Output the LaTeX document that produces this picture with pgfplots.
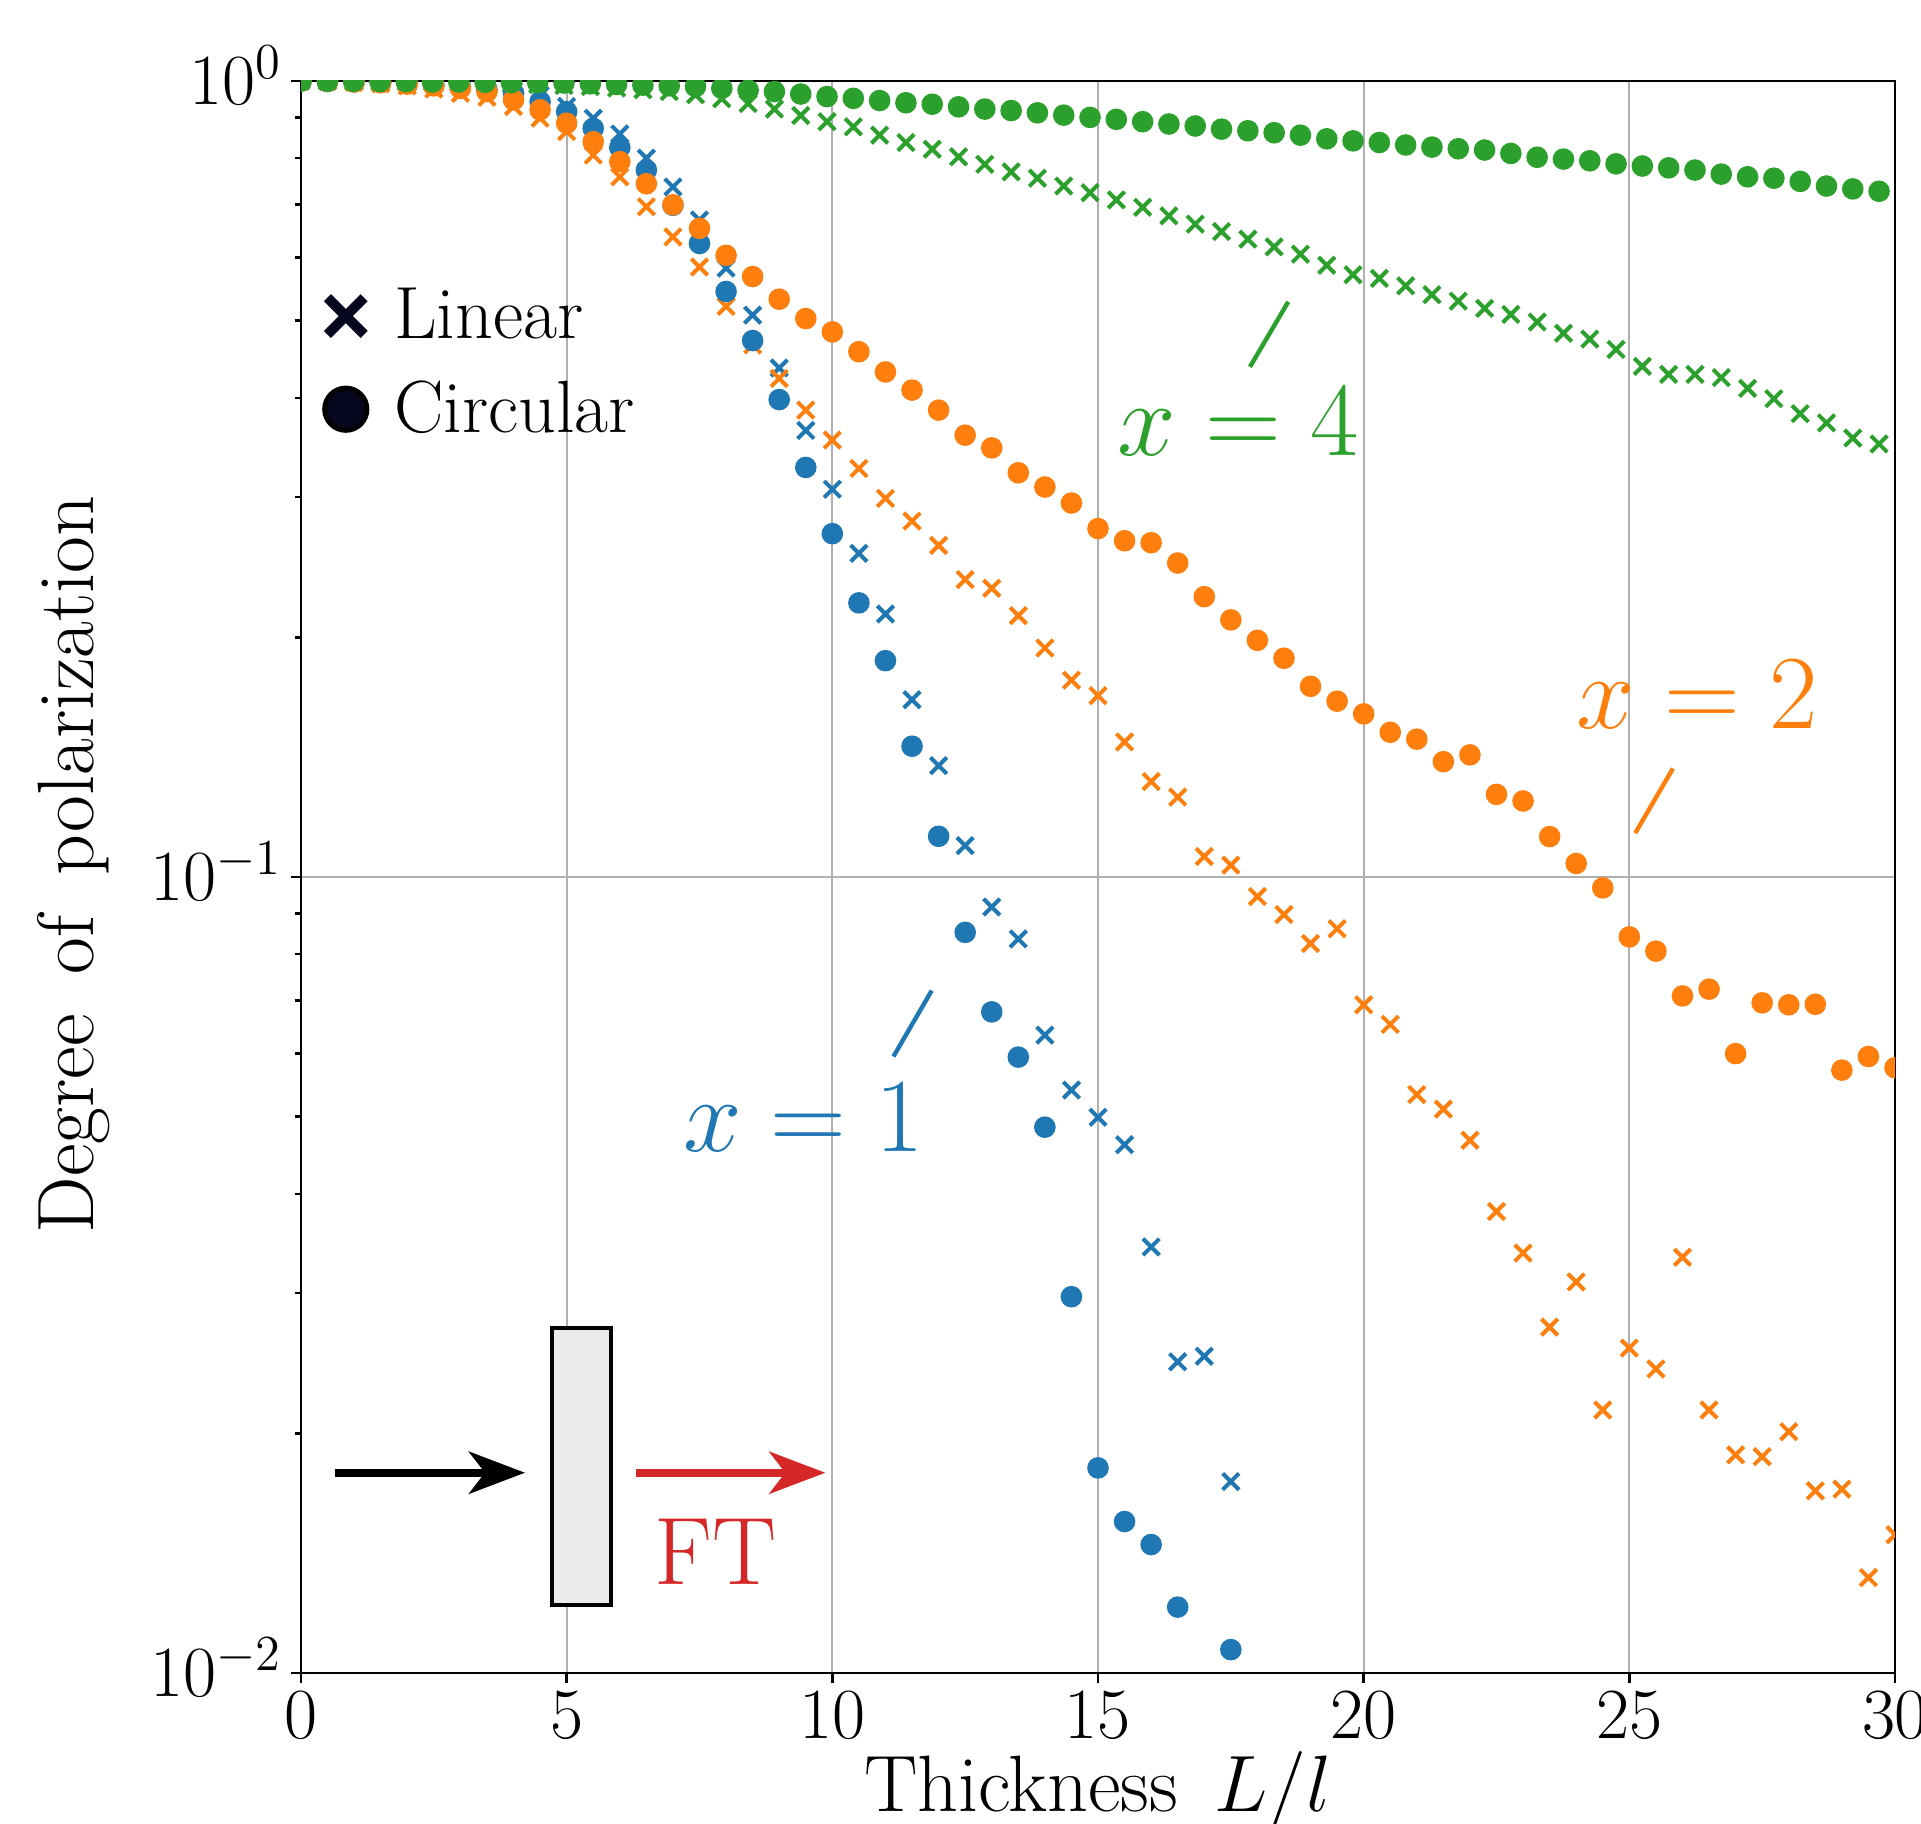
\RequirePackage{fix-cm}
\documentclass[border=0pt]{standalone}
\usepackage{pgfplots}
\usepackage{pgfplotstable}
\pgfplotsset{compat=1.18}
\usetikzlibrary{arrows.meta}

\definecolor{tabblue}{HTML}{1F77B4}
\definecolor{taborange}{HTML}{FF7F0E}
\definecolor{tabgreen}{HTML}{2CA02C}
\definecolor{tabred}{HTML}{D62728}
\definecolor{gridgray}{HTML}{B0B0B0}
\definecolor{slabgray}{HTML}{EBEBEB}
\definecolor{legnavy}{HTML}{06061F}

% x = 1
\pgfplotstableread{
x y
0 1.000
0.5 0.9995
1.0 0.999
1.5 0.997
2.0 0.995
2.5 0.992
3.0 0.987
3.5 0.980
4.0 0.972
4.5 0.960
5.0 0.929
5.5 0.898
6.0 0.858
6.5 0.800
7.0 0.736
7.5 0.669
8.0 0.582
8.5 0.508
9.0 0.436
9.5 0.364
10.0 0.307
10.5 0.255
11.0 0.214
11.5 0.167
12.0 0.138
12.5 0.1095
13.0 0.0917
13.5 0.0836
14.0 0.0633
14.5 0.0540
15.0 0.0499
15.5 0.0461
16.0 0.0343
16.5 0.0246
17.0 0.0250
17.5 0.0174
}\bluelin
\pgfplotstableread{
x y
0 1.000
0.5 0.999
1.0 0.998
1.5 0.996
2.0 0.993
2.5 0.989
3.0 0.983
3.5 0.975
4.0 0.965
4.5 0.942
5.0 0.915
5.5 0.872
6.0 0.825
6.5 0.773
7.0 0.698
7.5 0.625
8.0 0.544
8.5 0.472
9.0 0.398
9.5 0.327
10.0 0.270
10.5 0.221
11.0 0.187
11.5 0.146
12.0 0.1125
12.5 0.0852
13.0 0.0677
13.5 0.0594
14.0 0.0485
14.5 0.0297
15.0 0.0181
15.5 0.0155
16.0 0.0145
16.5 0.0121
17.5 0.0107
}\bluecirc

% x = 2
\pgfplotstableread{
x y
0 1.000
0.5 0.999
1.0 0.996
1.5 0.992
2.0 0.986
2.5 0.977
3.0 0.965
3.5 0.954
4.0 0.929
4.5 0.898
5.0 0.864
5.5 0.807
6.0 0.758
6.5 0.695
7.0 0.637
7.5 0.584
8.0 0.521
8.5 0.466
9.0 0.423
9.5 0.386
10.0 0.354
10.5 0.326
11.0 0.299
11.5 0.280
12.0 0.261
12.5 0.2364
13.0 0.2305
13.5 0.213
14.0 0.194
14.5 0.1767
15.0 0.169
15.5 0.1478
16.0 0.1318
16.5 0.126
17.0 0.1061
17.5 0.1035
18.0 0.0945
18.5 0.0897
19.0 0.0825
19.5 0.0861
20.0 0.0691
20.5 0.0653
21.0 0.0533
21.5 0.0511
22.0 0.0467
22.5 0.0380
23.0 0.0337
23.5 0.0272
24.0 0.0310
24.5 0.0214
25.0 0.0256
25.5 0.0241
26.0 0.0333
26.5 0.0214
27.0 0.0188
27.5 0.0187
28.0 0.0201
28.5 0.01694
29.0 0.01702
29.5 0.01318
30.0 0.01492
}\orangelin
\pgfplotstableread{
x y
0 1.000
0.5 0.999
1.0 0.997
1.5 0.995
2.0 0.991
2.5 0.986
3.0 0.979
3.5 0.970
4.0 0.947
4.5 0.920
5.0 0.885
5.5 0.839
6.0 0.792
6.5 0.743
7.0 0.699
7.5 0.653
8.0 0.604
8.5 0.568
9.0 0.532
9.5 0.503
10.0 0.484
10.5 0.457
11.0 0.431
11.5 0.409
12.0 0.386
12.5 0.359
13.0 0.346
13.5 0.322
14.0 0.309
14.5 0.295
15.0 0.274
15.5 0.2645
16.0 0.263
16.5 0.248
17.0 0.225
17.5 0.2104
18.0 0.1983
18.5 0.1883
19.0 0.1736
19.5 0.1663
20.0 0.1603
20.5 0.152
21.0 0.149
21.5 0.1396
22.0 0.1424
22.5 0.127
23.0 0.1246
23.5 0.1124
24.0 0.104
24.5 0.0969
25.0 0.0841
25.5 0.0807
26.0 0.0709
26.5 0.0723
27.0 0.060
27.5 0.0695
28.0 0.0691
28.5 0.0692
29.0 0.0572
29.5 0.0595
30.0 0.0576
}\orangecirc

% x = 4
\pgfplotstableread{
x y
0 1.000
0.495 0.9995
0.99 0.999
1.485 0.998
1.98 0.997
2.475 0.996
2.97 0.995
3.465 0.994
3.96 0.992
4.455 0.990
4.95 0.987
5.445 0.984
5.94 0.980
6.435 0.975
6.93 0.970
7.425 0.961
7.92 0.950
8.415 0.937
8.91 0.922
9.405 0.905
9.9 0.889
10.395 0.876
10.89 0.855
11.385 0.837
11.88 0.821
12.375 0.803
12.87 0.786
13.365 0.769
13.86 0.755
14.355 0.738
14.85 0.724
15.345 0.709
15.84 0.694
16.335 0.677
16.83 0.661
17.325 0.647
17.82 0.633
18.315 0.619
18.81 0.606
19.305 0.587
19.8 0.571
20.295 0.565
20.79 0.553
21.285 0.539
21.78 0.529
22.275 0.518
22.77 0.509
23.265 0.498
23.76 0.482
24.255 0.474
24.75 0.460
25.245 0.438
25.74 0.428
26.235 0.428
26.73 0.424
27.225 0.411
27.72 0.399
28.215 0.382
28.71 0.372
29.205 0.356
29.7 0.350
}\greenlin
\pgfplotstableread{
x y
0 1.000
0.495 0.999
0.99 0.999
1.485 0.998
1.98 0.998
2.475 0.997
2.97 0.997
3.465 0.996
3.96 0.995
4.455 0.995
4.95 0.994
5.445 0.992
5.94 0.990
6.435 0.988
6.93 0.986
7.425 0.984
7.92 0.979
8.415 0.974
8.91 0.970
9.405 0.963
9.9 0.956
10.395 0.951
10.89 0.945
11.385 0.939
11.88 0.935
12.375 0.928
12.87 0.922
13.365 0.918
13.86 0.912
14.355 0.906
14.85 0.900
15.345 0.895
15.84 0.889
16.335 0.883
16.83 0.878
17.325 0.870
17.82 0.866
18.315 0.861
18.81 0.855
19.305 0.846
19.8 0.841
20.295 0.837
20.79 0.831
21.285 0.826
21.78 0.822
22.275 0.819
22.77 0.811
23.265 0.802
23.76 0.798
24.255 0.794
24.75 0.787
25.245 0.782
25.74 0.778
26.235 0.773
26.73 0.764
27.225 0.758
27.72 0.755
28.215 0.748
28.71 0.738
29.205 0.732
29.7 0.727
}\greencirc

\pgfplotsset{
  lin/.style={only marks, mark=x, mark size=2.9pt, line width=1pt, color=#1, forget plot},
  circ/.style={only marks, mark=*, mark size=2.5pt, color=#1,
    mark options={draw=none, fill=#1}, forget plot},
}

\begin{document}
\begin{tikzpicture}
\begin{axis}[
  name=ax,
  scale only axis,
  width=398.5pt, height=398pt,
  ymode=log,
  xmin=0, xmax=30, ymin=0.01, ymax=1,
  xtick={0,5,...,30},
  ytick={0.01,0.1,1},
  minor ytick={0.02,0.03,0.04,0.05,0.06,0.07,0.08,0.09,0.2,0.3,0.4,0.5,0.6,0.7,0.8,0.9},
  grid=major,
  major grid style={gridgray, line width=0.5pt},
  axis line style={line width=0.7pt},
  tick align=outside,
  tick pos=left,
  major tick length=2.5pt,
  minor tick length=1.5pt,
  every tick/.style={black, line width=0.6pt},
  tick label style={font=\fontsize{18}{21}\selectfont},
  xticklabel style={inner ysep=2pt},
  yticklabel style={anchor=base east, yshift=-5.8pt, inner xsep=2pt},
  clip marker paths=true,
  xlabel={Thickness\hspace{0.45em}$L/l$},
  ylabel={Degree\hspace{0.5em}of\hspace{0.5em}polarization},
  label style={font=\fontsize{20}{24}\selectfont},
  xlabel style={at={(axis description cs:0.5,-0.0747)}, anchor=center},
  ylabel style={at={(axis description cs:-0.1425,0.508)}, anchor=center},
  legend style={draw=none, fill=none, at={(axis description cs:0,1)},
    anchor=north west, xshift=5.7pt, yshift=-49.5pt, inner sep=0pt,
    font=\fontsize{18.5}{22}\selectfont, row sep=5pt,
    /tikz/every odd column/.append style={column sep=4.8pt}},
  legend cell align=left,
]
\addlegendimage{only marks, mark=x, mark size=6.5pt, line width=2.5pt, color=legnavy}
\addlegendentry{Linear}
\addlegendimage{only marks, mark=*, mark size=5.3pt,
  mark options={draw=black, fill=legnavy, line width=1.2pt}}
\addlegendentry{Circular}

\addplot[lin=tabblue] table {\bluelin};
\addplot[lin=taborange] table {\orangelin};
\addplot[lin=tabgreen] table {\greenlin};
\addplot[circ=tabblue] table {\bluecirc};
\addplot[circ=taborange] table {\orangecirc};
\addplot[circ=tabgreen] table {\greencirc};

% labels of the three curves
\node[tabgreen, font=\fontsize{26.3}{31}\selectfont] at (axis cs:17.64,0.3735) {$x = 4$};
\draw[tabgreen, line width=1.1pt] (axis cs:18.58,0.528) -- (axis cs:17.86,0.4374);
\node[taborange, font=\fontsize{26.3}{31}\selectfont] at (axis cs:26.28,0.1696) {$x = 2$};
\draw[taborange, line width=1.1pt] (axis cs:25.82,0.1369) -- (axis cs:25.11,0.1135);
\node[tabblue, font=\fontsize{26.3}{31}\selectfont] at (axis cs:9.46,0.0499) {$x = 1$};
\draw[tabblue, line width=1.1pt] (axis cs:11.87,0.0720) -- (axis cs:11.15,0.0595);

% sketch of the slab
\draw[line width=2pt, -{Stealth[length=14pt, width=10.5pt, inset=4pt]}]
  (axis cs:0.649,0.01785) -- (axis cs:4.216,0.01785);
\draw[fill=slabgray, line width=1pt] (axis cs:4.719,0.01217) rectangle (axis cs:5.842,0.02713);
\draw[tabred, line width=2pt, -{Stealth[length=14pt, width=10.5pt, inset=4pt]}]
  (axis cs:6.305,0.01785) -- (axis cs:9.868,0.01785);
\node[tabred, font=\fontsize{24}{28}\selectfont] at (axis cs:7.80,0.01419) {FT};
\end{axis}
\pgfresetboundingbox
\path ([shift={(-75.25pt,-37.75pt)}]ax.south west) rectangle ([shift={(6.5pt,20.25pt)}]ax.north east);
\end{tikzpicture}
\end{document}
